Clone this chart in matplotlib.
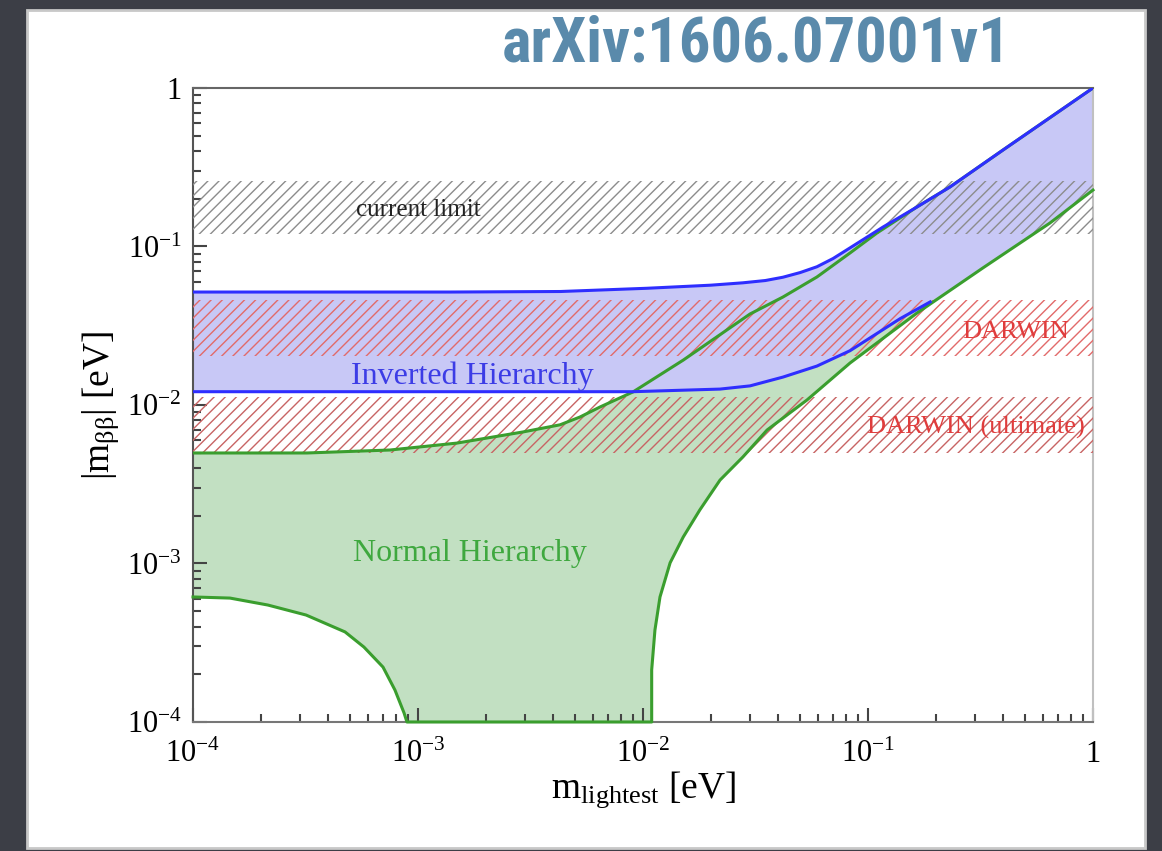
import numpy as np
import matplotlib
matplotlib.use("Agg")
import matplotlib.pyplot as plt
from matplotlib.patches import Rectangle
from matplotlib.ticker import FixedLocator, FixedFormatter, LogLocator, NullFormatter

plt.rcParams['font.family'] = ['Liberation Serif', 'DejaVu Serif']
plt.rcParams['mathtext.fontset'] = 'custom'
plt.rcParams['mathtext.rm'] = 'Liberation Serif'
plt.rcParams['mathtext.it'] = 'Liberation Serif:italic'
plt.rcParams['mathtext.bf'] = 'Liberation Serif:bold'
plt.rcParams['hatch.linewidth'] = 1.0

# normal hierarchy, lower edge (m_lightest [eV], |m_bb| [eV])
nh_lo_m = [1.0e-4, 1.46e-4, 2.15e-4, 3.18e-4, 4.74e-4, 5.75e-4, 6.99e-4, 7.9e-4, 8.67e-4, 8.93e-4,
           1.093e-2, 1.093e-2, 1.13e-2, 1.19e-2, 1.32e-2, 1.51e-2, 1.79e-2, 2.20e-2, 2.78e-2,
           3.56e-2, 5.36e-2, 8.32e-2, 0.165, 0.324, 0.644, 1.0]
nh_lo = [6.15e-4, 6.05e-4, 5.47e-4, 4.73e-4, 3.70e-4, 2.97e-4, 2.22e-4, 1.59e-4, 1.14e-4, 1.0e-4,
         1.0e-4, 2.13e-4, 3.80e-4, 6.15e-4, 1.01e-3, 1.47e-3, 2.18e-3, 3.36e-3, 4.70e-3,
         6.95e-3, 1.076e-2, 1.84e-2, 3.80e-2, 7.32e-2, 0.1407, 0.227]

# normal hierarchy, upper edge
nh_up_m = [1.0e-4, 3.21e-4, 7.52e-4, 1.49e-3, 2.93e-3, 4.28e-3, 5.25e-3, 6.44e-3, 9.04e-3, 1.51e-2,
           2.13e-2, 2.99e-2, 4.19e-2, 5.93e-2, 8.32e-2, 0.1096, 0.165, 0.231, 0.398, 1.0]
nh_up = [4.98e-3, 4.98e-3, 5.2e-3, 5.75e-3, 6.76e-3, 7.5e-3, 8.4e-3, 9.71e-3, 1.21e-2, 1.92e-2,
         2.69e-2, 3.75e-2, 4.8e-2, 6.42e-2, 9.1e-2, 0.1217, 0.1775, 0.237, 0.406, 1.0]

# inverted hierarchy, upper edge
ih_up_m = [1.0e-4, 1.39e-3, 4.3e-3, 1.04e-2, 2.0e-2, 2.78e-2, 3.5e-2, 4.19e-2, 5.0e-2, 5.93e-2,
           7.0e-2, 8.32e-2, 0.1167, 0.165, 0.231, 0.398, 1.0]
ih_up = [5.16e-2, 5.16e-2, 5.2e-2, 5.45e-2, 5.7e-2, 5.9e-2, 6.1e-2, 6.4e-2, 6.85e-2, 7.45e-2,
         8.4e-2, 9.8e-2, 0.1327, 0.1775, 0.237, 0.406, 1.0]

# inverted hierarchy, lower edge (joins NH lower edge above ~0.19 eV)
ih_lo_m = [1.0e-4, 9.04e-3, 2.2e-2, 2.99e-2, 4.19e-2, 5.93e-2, 8.32e-2, 0.1387, 0.189, 0.324, 0.644, 1.0]
ih_lo = [1.213e-2, 1.213e-2, 1.26e-2, 1.32e-2, 1.5e-2, 1.76e-2, 2.2e-2, 3.5e-2, 4.47e-2,
         7.32e-2, 0.1407, 0.227]

# sensitivity bands (|m_bb| range)
current_limit = (0.12, 0.26)
darwin = (0.0205, 0.046)
darwin_ult = (0.005, 0.0112)

xtick_vals = [1e-4, 1e-3, 1e-2, 1e-1, 1]
xtick_labels = ['$10^{-4}$', '$10^{-3}$', '$10^{-2}$', '$10^{-1}$', '1']
ytick_vals = [1e-4, 1e-3, 1e-2, 1e-1, 1]
ytick_labels = ['$10^{-4}$', '$10^{-3}$', '$10^{-2}$', '$10^{-1}$', '1']

fig = plt.figure(figsize=(11.62, 8.51), dpi=100)
fig.patch.set_facecolor('#3c3e46')
fig.patches.append(Rectangle((0.0232, 0.0035), 0.962, 0.9847, transform=fig.transFigure,
                             facecolor='white', edgecolor='#c8c8c8', lw=2, zorder=-1))

ax = fig.add_axes([0.1661, 0.1516, 0.7745, 0.745])
ax.set_xscale('log')
ax.set_yscale('log')

# filled regions
ax.fill(np.r_[nh_up_m, nh_lo_m[::-1]], np.r_[nh_up, nh_lo[::-1]],
        color='#c2e0c2', lw=0, zorder=1)
ax.fill(np.r_[ih_up_m, ih_lo_m[::-1]], np.r_[ih_up, ih_lo[::-1]],
        color='#c8c8f6', lw=0, zorder=2)

# hatched sensitivity bands
ax.axhspan(*current_limit, facecolor='none', edgecolor='#8c8c8c', hatch='///', lw=0, zorder=3)
ax.axhspan(*darwin, facecolor='none', edgecolor='#e26a6a', hatch='///', lw=0, zorder=3)
ax.axhspan(*darwin_ult, facecolor='none', edgecolor='#c86464', hatch='///', lw=0, zorder=3)

# boundary lines
green = '#3a9e2e'
blue = '#2e2eff'
ax.plot(nh_lo_m, nh_lo, color=green, lw=2.2, zorder=4, clip_on=False)
ax.plot(nh_up_m, nh_up, color=green, lw=2.2, zorder=4)
ax.plot(ih_up_m, ih_up, color=blue, lw=2.2, zorder=5)
ax.plot(ih_lo_m[:9], ih_lo[:9], color=blue, lw=2.2, zorder=5)

ax.set_xlim(1e-4, 1)
ax.set_ylim(1e-4, 1)

# labels
ax.text(1e-3, 0.17, 'current limit', fontsize=18, color='#222222', ha='center', va='center', zorder=6)
ax.text(1.75e-3, 0.0152, 'Inverted Hierarchy', fontsize=23, color='#3c3ce6', ha='center', va='center', zorder=6)
ax.text(1.70e-3, 1.16e-3, 'Normal Hierarchy', fontsize=23, color='#3fa83f', ha='center', va='center', zorder=6)
ax.text(0.455, 0.0289, 'DARWIN', fontsize=19, color='#e03c3c', ha='center', va='center', zorder=6)
ax.text(0.302, 7.26e-3, 'DARWIN (ultimate)', fontsize=19, color='#e03c3c', ha='center', va='center', zorder=6)

# ticks
ax.xaxis.set_major_locator(FixedLocator(xtick_vals))
ax.xaxis.set_major_formatter(FixedFormatter(xtick_labels))
ax.yaxis.set_major_locator(FixedLocator(ytick_vals))
ax.yaxis.set_major_formatter(FixedFormatter(ytick_labels))
for a in (ax.xaxis, ax.yaxis):
    a.set_minor_locator(LogLocator(base=10, subs=np.arange(2, 10), numticks=20))
    a.set_minor_formatter(NullFormatter())
ax.tick_params(which='both', direction='in', top=False, right=False, color='#444444', width=1.5)
ax.tick_params(which='major', length=10, labelsize=22, pad=8)
ax.tick_params(which='minor', length=6)
ax.tick_params(axis='x', which='major', pad=13)

for s in ax.spines.values():
    s.set_color('#8a8a8a')
    s.set_linewidth(1.5)
ax.spines['left'].set_color('#555555')
ax.spines['top'].set_color('#666666')
ax.spines['bottom'].set_color('#777777')
ax.spines['right'].set_color('#c0c0c0')

ax.set_xlabel(r'm$_{\mathrm{lightest}}$ [eV]', fontsize=27, labelpad=0)
ax.set_ylabel(r'|m$_{\mathrm{\beta\beta}}$| [eV]', fontsize=27, labelpad=4)

fig.text(0.651, 0.948, 'arXiv:1606.07001v1', fontsize=45, fontweight='bold',
         family=['Roboto Condensed', 'Roboto', 'DejaVu Sans'], color='#5a8aab', ha='center', va='center')

fig.savefig('out.png', dpi=100, facecolor=fig.get_facecolor())
